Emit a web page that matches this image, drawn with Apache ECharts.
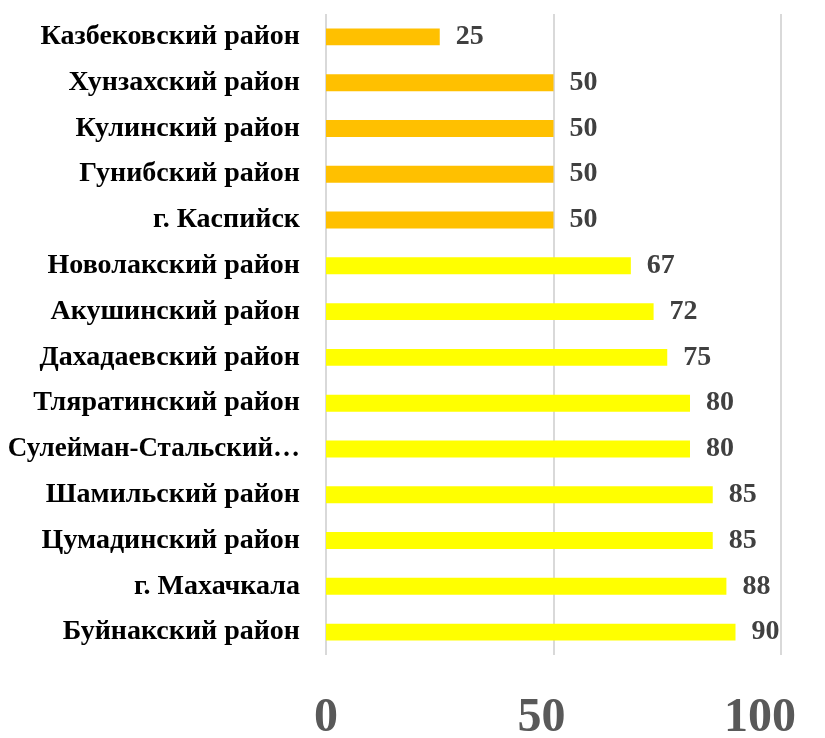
<!DOCTYPE html>
<html>
<head>
<meta charset="utf-8">
<script src="https://cdn.jsdelivr.net/npm/echarts@6/dist/echarts.min.js"></script>
<style>
  html, body { margin: 0; padding: 0; background: #fff; }
  #chart { width: 825px; height: 738px; }
</style>
</head>
<body>
<div id="chart"></div>
<script>
// categories listed bottom -> top (ECharts category y axis starts at bottom)
const districts = [
  'Буйнакский район',
  'г. Махачкала',
  'Цумадинский район',
  'Шамильский район',
  'Сулейман-Стальский район',
  'Тляратинский район',
  'Дахадаевский район',
  'Акушинский район',
  'Новолакский район',
  'г. Каспийск',
  'Гунибский район',
  'Кулинский район',
  'Хунзахский район',
  'Казбековский район'
]
const values = [90, 88, 85, 85, 80, 80, 75, 72, 67, 50, 50, 50, 50, 25]
const xTicks = [0, 50, 100]

const font = '"Liberation Serif", "Times New Roman", serif'

const chart = echarts.init(document.getElementById('chart'))

chart.setOption({
  animation: false,
  grid: {
    left: 326,
    right: 44,
    top: 14,
    bottom: 83,
    outerBoundsMode: 'none'
  },
  xAxis: {
    type: 'value',
    min: xTicks[0],
    max: xTicks[xTicks.length - 1],
    interval: 50,
    axisLine: { show: false },
    axisTick: { show: false },
    axisLabel: {
      color: '#595959',
      fontFamily: font,
      fontWeight: 'bold',
      fontSize: 48,
      margin: 40,
      // labels in the original sit a bit left of their gridlines
      formatter: v => v === 100 ? '{c|' + v + '}' : v === 50 ? '{b|' + v + '}' : String(v),
      rich: {
        b: { fontFamily: font, fontWeight: 'bold', fontSize: 48, color: '#595959', padding: [0, 24, 0, 0] },
        c: { fontFamily: font, fontWeight: 'bold', fontSize: 48, color: '#595959', padding: [0, 42, 0, 0] }
      }
    },
    splitLine: {
      lineStyle: { color: '#d9d9d9', width: 2 }
    }
  },
  yAxis: {
    type: 'category',
    data: districts,
    axisLine: { show: false },
    axisTick: { show: false },
    axisLabel: {
      color: '#000',
      fontFamily: font,
      fontWeight: 'bold',
      fontSize: 28,
      margin: 26,
      formatter: v => v.length > 20 ? '{l|' + v.split(' ')[0] + '…}' : v,
      rich: {
        l: { fontFamily: font, fontWeight: 'bold', fontSize: 27, color: '#000' }
      }
    }
  },
  series: [{
    type: 'bar',
    data: values.map((v, i) => ({
      value: v,
      itemStyle: { color: i >= 9 ? '#ffc000' : '#ffff00' }
    })),
    barWidth: '37%',
    label: {
      show: true,
      position: 'right',
      distance: 16,
      color: '#404040',
      fontFamily: font,
      fontWeight: 'bold',
      fontSize: 28
    }
  }]
})
</script>
</body>
</html>
